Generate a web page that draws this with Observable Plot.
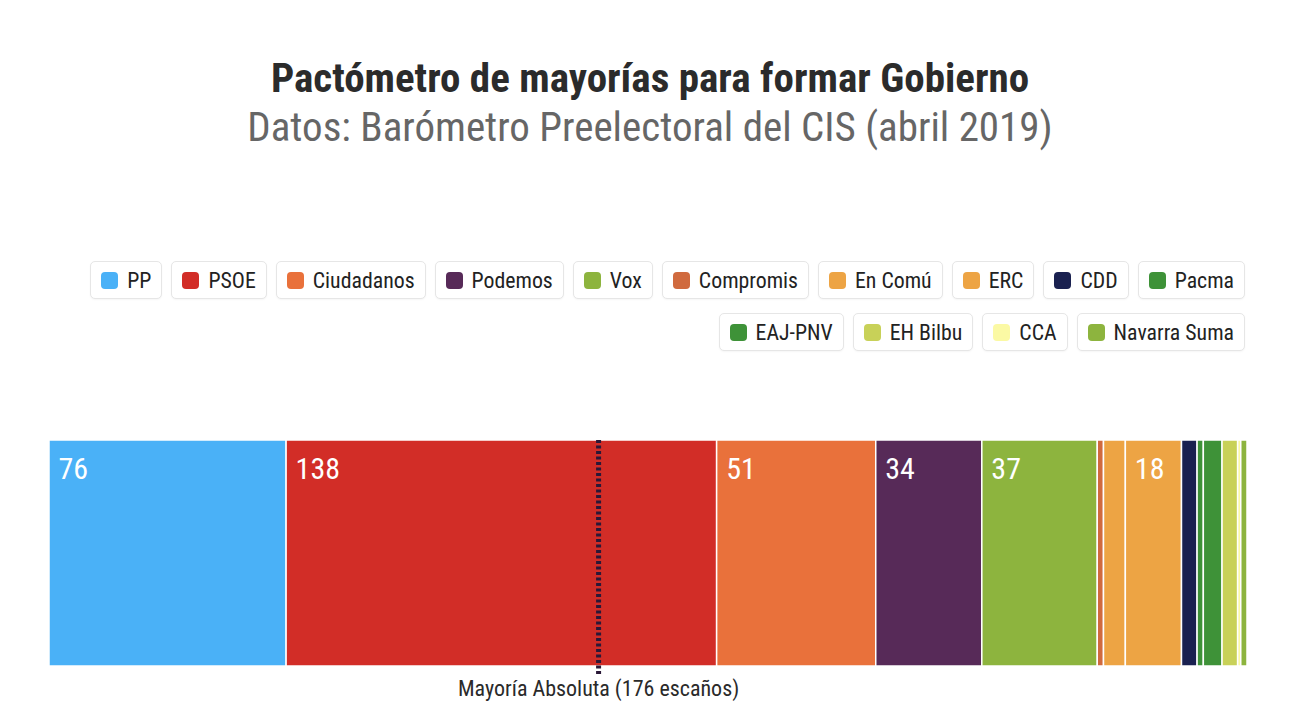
<!DOCTYPE html>
<html>
<head>
<meta charset="utf-8">
<script src="https://cdn.jsdelivr.net/npm/d3@7"></script>
<script src="https://cdn.jsdelivr.net/npm/@observablehq/plot@0.6"></script>
<style>
  body { margin: 0; background: #fff; width: 1300px; height: 715px; position: relative; overflow: hidden;
         font-family: "Roboto Condensed", "Liberation Sans Narrow", "DejaVu Sans Condensed", Roboto, sans-serif; font-stretch: condensed; }
  #title { position: absolute; top: 55px; left: 0; width: 1300px; text-align: center; font-size: 41px; font-weight: bold; color: #2b2b2b; line-height: 46px; }
  #subtitle { position: absolute; top: 104px; left: 0; width: 1300px; text-align: center; font-size: 41px; color: #666; line-height: 46px; }
  .row { position: absolute; right: 55px; display: flex; gap: 9px; }
  .item { display: flex; align-items: center; height: 36px; border: 1px solid #e6e6e6; border-radius: 5px; padding: 0 10px; font-size: 21.8px; color: #222; background: #fff; box-shadow: 0 1px 2px rgba(0,0,0,0.04); }
  .sw { width: 17px; height: 17px; border-radius: 4px; margin-right: 9px; }
  #chart { position: absolute; top: 410px; left: 0; }
</style>
</head>
<body>
<div id="title">Pactómetro de mayorías para formar Gobierno</div>
<div id="subtitle">Datos: Barómetro Preelectoral del CIS (abril 2019)</div>
<div id="legend1" class="row" style="top:261px"></div>
<div id="legend2" class="row" style="top:313px"></div>
<div id="chart"></div>
<script>
const parties = ["PP","PSOE","Ciudadanos","Podemos","Vox","Compromis","En Comú","ERC","CDD","Pacma","EAJ-PNV","EH Bilbu","CCA","Navarra Suma"];
const seats   = [76, 138, 51, 34, 37, 2, 7, 18, 5, 2, 6, 5, 1, 2];
const colors  = ["#4ab1f7","#d22d27","#e9713b","#572a58","#8db43e","#d06a3e","#eda444","#eda444","#1a2150","#3e9238","#3e9238","#c8d158","#fbf9a4","#8db43e"];
const majority = 176;
const majorityLabel = "Mayoría Absoluta (176 escaños)";
const labelMin = 18;

const data = parties.map((p, i) => ({party: p, seats: seats[i]}));
const total = d3.sum(seats);

// legend
parties.forEach((p, i) => {
  const item = document.createElement("div");
  item.className = "item";
  item.innerHTML = `<span class="sw" style="background:${colors[i]}"></span>${p}`;
  document.getElementById(i < 10 ? "legend1" : "legend2").appendChild(item);
});

const font = '"Roboto Condensed", "Liberation Sans Narrow", "DejaVu Sans Condensed", Roboto, sans-serif';
const chart = Plot.plot({
  width: 1300,
  height: 305,
  marginLeft: 49,
  marginRight: 53,
  marginTop: 30,
  marginBottom: 49,
  x: {domain: [0, total], axis: null},
  color: {domain: parties, range: colors},
  style: {fontFamily: font, background: "transparent"},
  marks: [
    Plot.barX(data, Plot.stackX({x: "seats", fill: "party", stroke: "white", strokeWidth: 1.5})),
    Plot.text(data, Plot.stackX1({x: "seats", text: d => d.seats >= labelMin ? String(d.seats) : "",
      frameAnchor: "top", textAnchor: "start", dx: 9, dy: 29, lineAnchor: "middle",
      fill: "white", fontSize: 30})),
    Plot.ruleX([majority], {stroke: "#2a1838", strokeWidth: 5, strokeDasharray: "3,2.5", insetBottom: -8}),
    Plot.text([majorityLabel], {x: () => majority, text: d => d, frameAnchor: "bottom", dy: 22, lineAnchor: "middle", fontSize: 22, fill: "#2a2a2a"})
  ]
});
chart.style.fontFamily = font;
document.getElementById("chart").appendChild(chart);
</script>
</body>
</html>
